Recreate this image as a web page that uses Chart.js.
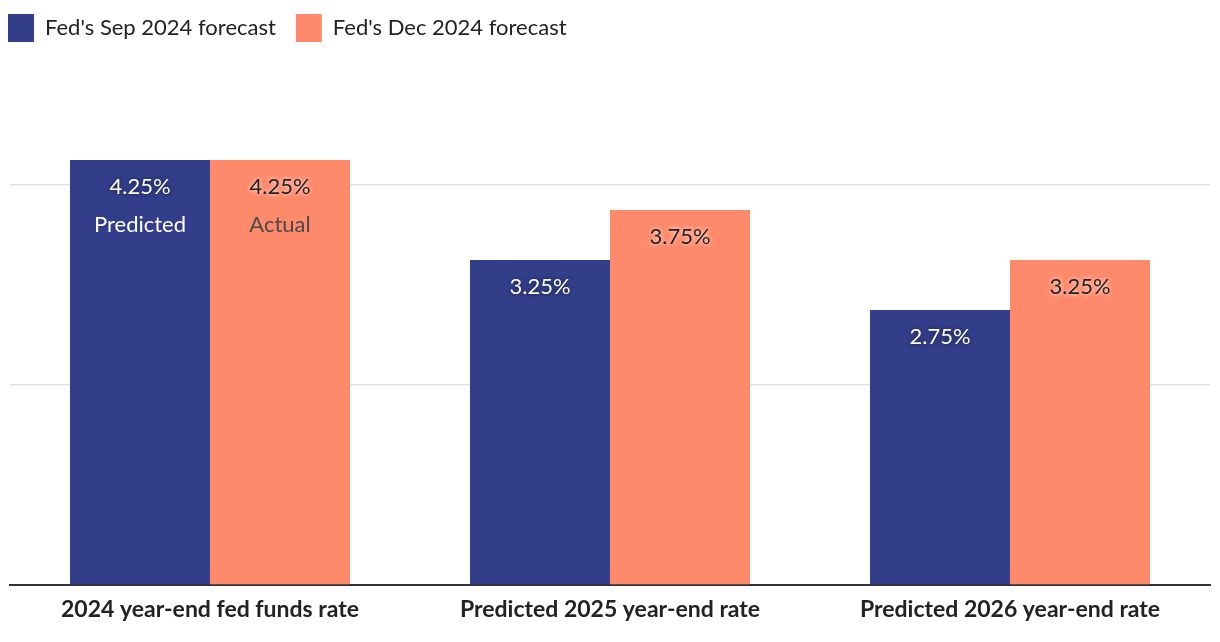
<!DOCTYPE html>
<html>
<head>
<meta charset="utf-8">
<script src="https://cdn.jsdelivr.net/npm/chart.js@4"></script>
<style>
  html, body { margin: 0; padding: 0; background: #fff; }
  #wrap { width: 1220px; height: 642px; }
</style>
</head>
<body>
<div id="wrap"><canvas id="chart"></canvas></div>
<script>
const categories = ["2024 year-end fed funds rate", "Predicted 2025 year-end rate", "Predicted 2026 year-end rate"];
const sepForecast = [4.25, 3.25, 2.75];
const decForecast = [4.25, 3.75, 3.25];
const sepNotes = ["Predicted", "", ""];
const decNotes = ["Actual", "", ""];
const gridValues = [2, 4];

const FONT = "Lato, 'Noto Sans', sans-serif";
const BLUE = "#323e8a";
const ORANGE = "#ff8a6b";

// Legend sits in a fixed 85px band; shift it left to hug the edge.
const legendBand = {
  id: "legendBand",
  beforeInit(chart) {
    const fit = chart.legend.fit;
    chart.legend.fit = function () {
      fit.call(this);
      this.height = 85;
    };
  },
  afterLayout(chart) {
    chart.legend.left = -12;
    chart.legend.top = -6;
  },
};

// Value labels inside the top of each bar.
const barLabels = {
  id: "barLabels",
  afterDatasetsDraw(chart) {
    const ctx = chart.ctx;
    const notes = [sepNotes, decNotes];
    chart.data.datasets.forEach((ds, i) => {
      const meta = chart.getDatasetMeta(i);
      meta.data.forEach((bar, j) => {
        ctx.save();
        ctx.textAlign = "center";
        ctx.textBaseline = "middle";
        ctx.font = "22px " + FONT;
        if (i === 0) {
          ctx.fillStyle = "#fff";
          ctx.shadowColor = "rgba(0,0,0,0.6)";
        } else {
          ctx.fillStyle = "#222";
          ctx.shadowColor = "rgba(255,255,255,0.9)";
        }
        ctx.shadowBlur = 4;
        ctx.fillText(ds.data[j].toFixed(2) + "%", bar.x, bar.y + 27);
        const note = notes[i][j];
        if (note) {
          ctx.shadowBlur = 0;
          ctx.fillStyle = i === 0 ? "#fff" : "#4a4a4a";
          ctx.fillText(note, bar.x, bar.y + 65);
        }
        ctx.restore();
      });
    });
  },
};

new Chart(document.getElementById("chart"), {
  type: "bar",
  data: {
    labels: categories,
    datasets: [
      {
        label: "Fed's Sep 2024 forecast",
        data: sepForecast,
        backgroundColor: BLUE,
        categoryPercentage: 0.7,
        barPercentage: 1.0,
      },
      {
        label: "Fed's Dec 2024 forecast",
        data: decForecast,
        backgroundColor: ORANGE,
        categoryPercentage: 0.7,
        barPercentage: 1.0,
      },
    ],
  },
  options: {
    responsive: true,
    maintainAspectRatio: false,
    animation: false,
    layout: { padding: { left: 10, right: 10, top: 0, bottom: 0 } },
    plugins: {
      legend: {
        position: "top",
        align: "start",
        labels: {
          boxWidth: 26,
          boxHeight: 28,
          padding: 20,
          color: "#222",
          font: { family: FONT, size: 22 },
        },
      },
      tooltip: { enabled: false },
    },
    scales: {
      x: {
        grid: { display: false, drawTicks: false },
        border: { display: true, color: "#333", width: 2 },
        ticks: {
          color: "#222",
          padding: 11,
          font: { family: FONT, size: 23, weight: "bold" },
        },
        afterFit: (scale) => { scale.height = 57; },
      },
      y: {
        min: 0,
        max: 5,
        ticks: { display: false, stepSize: 2 },
        border: { display: false },
        grid: {
          drawTicks: false,
          lineWidth: 1.5,
          color: (c) => (gridValues.includes(c.tick.value) ? "#e3e3e3" : "rgba(0,0,0,0)"),
        },
        afterFit: (scale) => { scale.width = 0; },
      },
    },
  },
  plugins: [legendBand, barLabels],
});
</script>
</body>
</html>
